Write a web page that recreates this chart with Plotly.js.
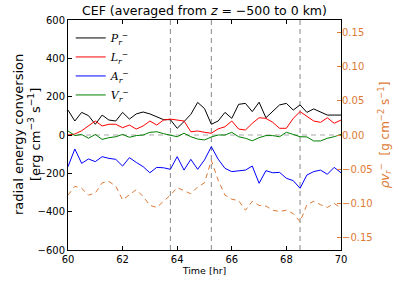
<!DOCTYPE html>
<html>
<head>
<meta charset="utf-8">
<script src="https://cdn.plot.ly/plotly-3.0.1.min.js"></script>
<style>html,body{margin:0;padding:0;background:#fff;}#chart{width:399px;height:283px;}</style>
</head>
<body>
<div id="chart"></div>
<script>
// Time samples [hr]
const timeHr = [60,60.25,60.5,60.75,61,61.25,61.5,61.75,62,62.25,62.5,62.75,63,63.25,63.5,63.75,64,64.25,64.5,64.75,65,65.25,65.5,65.75,66,66.25,66.5,66.75,67,67.25,67.5,67.75,68,68.25,68.5,68.75,69,69.25,69.5,69.75,70];
// Energy conversion terms [erg cm^-3 s^-1]
const P_r = [130,73,118,101,56,104,78,73,118,83,110,120,110,94,80,80,35,70,108,170,138,56,73,118,87,160,165,122,171,90,122,157,165,130,157,118,136,122,104,104,104];
const L_r = [0,5,22,47,73,47,56,56,38,52,31,47,73,52,78,83,77,73,17,21,14,9,32,43,73,31,26,61,90,87,66,35,35,87,122,96,73,66,90,61,78];
const A_r = [-165,-73,-148,-125,-139,-113,-122,-127,-162,-118,-143,-165,-197,-169,-171,-179,-113,-183,-127,-179,-130,-61,-126,-174,-191,-188,-183,-162,-252,-186,-197,-195,-226,-238,-278,-209,-191,-183,-205,-169,-197];
const V_r = [21,-3,3,-17,3,-23,-14,-9,3,-12,-3,0,14,17,7,-3,-9,9,-9,-21,-26,-10,0,0,14,-9,-17,-30,-14,-3,-3,-9,14,3,-9,-10,-31,-31,-17,-9,3];
// Mass flux [g cm^-2 s^-1] (right axis)
const rhoV = [-0.088,-0.075,-0.078,-0.088,-0.085,-0.070,-0.068,-0.075,-0.095,-0.088,-0.080,-0.090,-0.103,-0.106,-0.097,-0.088,-0.077,-0.082,-0.086,-0.076,-0.070,-0.037,-0.066,-0.088,-0.094,-0.096,-0.110,-0.097,-0.103,-0.104,-0.110,-0.112,-0.110,-0.115,-0.127,-0.102,-0.097,-0.102,-0.106,-0.100,-0.107];
// Event markers [hr]
const eventTimes = [63.75, 65.25, 68.5];
const leftTicks = [-600,-400,-200,0,200,400,600];
const rightTicks = [-0.15,-0.10,-0.05,0.00,0.05,0.10,0.15];
const xTicks = [60,62,64,66,68,70];

const ORANGE = '#dd7a35';
const font = 'DejaVu Sans, sans-serif';

const traces = [
  {x: timeHr, y: P_r, name: '<i>P<sub>r</sub></i><sup>−</sup>', mode: 'lines', line: {color: '#000000', width: 1}},
  {x: timeHr, y: L_r, name: '<i>L<sub>r</sub></i><sup>−</sup>', mode: 'lines', line: {color: '#ff0000', width: 1}},
  {x: timeHr, y: A_r, name: '<i>A<sub>r</sub></i><sup>−</sup>', mode: 'lines', line: {color: '#0000ff', width: 1}},
  {x: timeHr, y: V_r, name: '<i>V<sub>r</sub></i><sup>−</sup>', mode: 'lines', line: {color: '#008000', width: 1}},
  {x: timeHr, y: rhoV, name: 'rhov', yaxis: 'y2', mode: 'lines', showlegend: false, line: {color: ORANGE, width: 1, dash: '5px,4px'}}
];

const shapes = [{type: 'line', xref: 'x', yref: 'y', x0: 60, x1: 70, y0: 0, y1: 0, layer: 'below', line: {color: '#aaaaaa', width: 1.2, dash: '5px,4px'}}];
eventTimes.forEach(t => shapes.push({type: 'line', xref: 'x', yref: 'paper', x0: t, x1: t, y0: 0, y1: 1, layer: 'below', line: {color: '#888888', width: 1, dash: '5px,4px'}}));

const annotations = [{
  text: 'radial energy conversion<br>[erg cm<sup>−3</sup> s<sup>−1</sup>]',
  xref: 'paper', yref: 'paper', x: 0, y: 0.5, xanchor: 'center', yanchor: 'middle',
  xshift: -41, textangle: -90, showarrow: false, align: 'center',
  font: {family: font, size: 13, color: '#000'}
}];

const layout = {
  width: 399, height: 283,
  margin: {l: 68, r: 58, t: 20, b: 33},
  paper_bgcolor: '#ffffff', plot_bgcolor: '#ffffff',
  font: {family: font, size: 10, color: '#000'},
  showlegend: true,
  title: {text: 'CEF (averaged from <i>z</i> = −500 to 0 km)', font: {family: font, size: 12.5, color: '#000'}, x: 0.5, xref: 'paper', xanchor: 'center', y: 0.962, yref: 'container', yanchor: 'middle'},
  legend: {x: 0.01, y: 0.985, xanchor: 'left', yanchor: 'top', bgcolor: 'rgba(0,0,0,0)', borderwidth: 0, font: {family: 'DejaVu Serif, serif', size: 11}, tracegroupgap: 0},
  xaxis: {range: [60, 70], tickvals: xTicks, ticks: 'inside', ticklen: 4, tickcolor: '#000', showline: true, linecolor: '#000', linewidth: 1, mirror: 'ticks', showgrid: false, zeroline: false, tickfont: {size: 10},
    title: {text: 'Time [hr]', font: {size: 9.5}, standoff: 2}},
  yaxis: {range: [-600, 600], tickvals: leftTicks, ticks: 'inside', ticklen: 4, tickcolor: '#000', showline: true, linecolor: '#000', linewidth: 1, mirror: true, showgrid: false, zeroline: false, tickfont: {size: 10}},
  yaxis2: {overlaying: 'y', side: 'right', range: [-0.1683, 0.1683], tickvals: rightTicks, tickformat: '.2f', ticks: 'inside', ticklen: 4, tickcolor: ORANGE, showline: false, showgrid: false, zeroline: false, tickfont: {size: 10, color: ORANGE},
    title: {text: '<i>ρv<sub>r</sub></i><sup>−</sup>  [g cm<sup>−2</sup> s<sup>−1</sup>]', font: {size: 12, color: ORANGE}, standoff: 8}},
  shapes: shapes,
  annotations: annotations
};

Plotly.newPlot('chart', traces, layout, {displayModeBar: false, staticPlot: true});
</script>
</body>
</html>
